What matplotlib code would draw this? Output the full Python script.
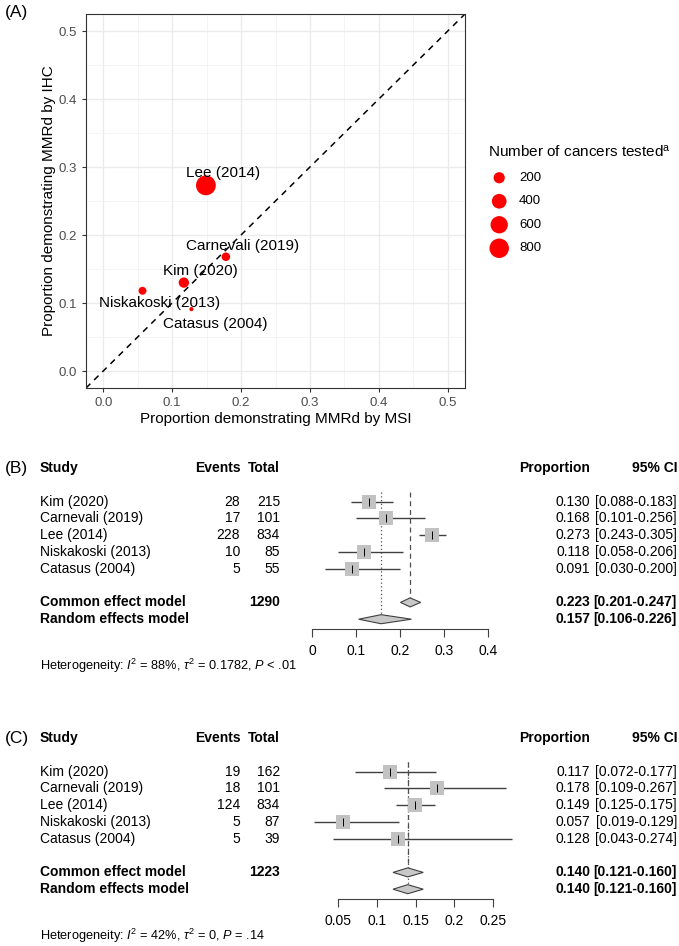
import numpy as np
import matplotlib.pyplot as plt
import matplotlib.transforms as mtransforms

plt.rcParams['font.family'] = ['Liberation Sans', 'DejaVu Sans']
plt.rcParams['mathtext.fontset'] = 'custom'
plt.rcParams['mathtext.rm'] = 'Liberation Sans'
plt.rcParams['mathtext.it'] = 'Liberation Sans:italic'
plt.rcParams['mathtext.bf'] = 'Liberation Sans:bold'

W, H = 679, 946

studies = ["Kim (2020)", "Carnevali (2019)", "Lee (2014)", "Niskakoski (2013)", "Catasus (2004)"]

# panel B: IHC
ihc_events = [28, 17, 228, 10, 5]
ihc_total = [215, 101, 834, 85, 55]
ihc_prop = [0.130, 0.168, 0.273, 0.118, 0.091]
ihc_lo = [0.088, 0.101, 0.243, 0.058, 0.030]
ihc_hi = [0.183, 0.256, 0.305, 0.206, 0.200]
ihc_common = [0.223, 0.201, 0.247]
ihc_random = [0.157, 0.106, 0.226]
ihc_sum = 1290

# panel C: MSI
msi_events = [19, 18, 124, 5, 5]
msi_total = [162, 101, 834, 87, 39]
msi_prop = [0.117, 0.178, 0.149, 0.057, 0.128]
msi_lo = [0.072, 0.109, 0.125, 0.019, 0.043]
msi_hi = [0.177, 0.267, 0.175, 0.129, 0.274]
msi_common = [0.140, 0.121, 0.160]
msi_random = [0.140, 0.121, 0.160]
msi_sum = 1223

# panel A
n_tested = [162, 101, 834, 85, 39]
legend_sizes = [200, 400, 600, 800]
label_offsets = [(12, 8), (12, 8), (12, 9), (12, -9), (17, -11)]


def rect(left, top, width, height):
    return [left / W, 1 - (top + height) / H, width / W, height / H]


def marker_area(n):
    nmin, nmax = min(n_tested), max(n_tested)
    size = 1 + 5 * np.sqrt((np.asarray(n, float) - nmin) / (nmax - nmin))
    d_px = 1.1 * (size * 2.845 + 0.94)
    return (d_px * 0.72) ** 2


fig = plt.figure(figsize=(W / 100, H / 100), dpi=100)

# ---------------- (A) scatter ----------------
ax = fig.add_axes(rect(86, 14, 379, 374))
ax.set_xlim(-0.025, 0.525)
ax.set_ylim(-0.025, 0.525)
ax.set_xticks(np.arange(0, 0.51, 0.1))
ax.set_yticks(np.arange(0, 0.51, 0.1))
ax.set_xticks(np.arange(0.05, 0.5, 0.1), minor=True)
ax.set_yticks(np.arange(0.05, 0.5, 0.1), minor=True)
ax.set_xticklabels(["0.0", "0.1", "0.2", "0.3", "0.4", "0.5"])
ax.set_yticklabels(["0.0", "0.1", "0.2", "0.3", "0.4", "0.5"])
ax.grid(which='major', color='#EBEBEB', lw=1.0)
ax.grid(which='minor', color='#F2F2F2', lw=0.6)
ax.set_axisbelow(True)
for s in ax.spines.values():
    s.set_color('#333333')
    s.set_linewidth(0.8)
ax.tick_params(which='major', length=3, color='#333333', labelcolor='#4D4D4D', labelsize=9.5)
ax.tick_params(which='minor', length=0)
ax.plot([-0.025, 0.525], [-0.025, 0.525], ls=(0, (4, 3.5)), color='black', lw=1.1, zorder=1)
ax.scatter(msi_prop, ihc_prop, s=marker_area(n_tested), color='#FF0000', lw=0, zorder=3)
for name, x, y, off in zip(studies, msi_prop, ihc_prop, label_offsets):
    ax.annotate(name, (x, y), xytext=off, textcoords='offset points',
                ha='center', va='center', fontsize=11, zorder=4)
ax.set_xlabel("Proportion demonstrating MMRd by MSI", fontsize=11, labelpad=2)
ax.set_ylabel("Proportion demonstrating MMRd by IHC", fontsize=11, labelpad=2)
fig.text(5 / W, 1 - 12 / H, "(A)", fontsize=12.5, va='center', ha='left')

# legend
lax = fig.add_axes(rect(486, 166, 60, 94))
lax.set_xlim(0, 1)
lax.set_ylim(3.5, -0.5)
lax.axis('off')
lax.scatter([0.22] * len(legend_sizes), range(len(legend_sizes)), s=marker_area(legend_sizes),
            color='#FF0000', lw=0)
for i, v in enumerate(legend_sizes):
    lax.text(0.55, i, str(v), va='center', ha='left', fontsize=9.5)
fig.text(488 / W, 1 - 152 / H, r"Number of cancers tested$^{\mathrm{a}}$", fontsize=11,
         va='center', ha='left')


# ---------------- forest plots ----------------
def forest(label, top, ax_left, ax_width, xlim, ticks, ticklabels,
           events, total, prop, lo, hi, common, random, nsum, hetero):
    row_h = 16.8
    fax = fig.add_axes(rect(ax_left, top - 0.5 * row_h, ax_width, 10.1 * row_h))
    fax.set_xlim(*xlim)
    fax.set_ylim(9.6, -0.5)
    for k in ['top', 'left', 'right']:
        fax.spines[k].set_visible(False)
    fax.spines['bottom'].set_color('#404040')
    fax.spines['bottom'].set_linewidth(0.8)
    fax.set_yticks([])
    fax.set_xticks(ticks)
    fax.set_xticklabels(ticklabels)
    fax.tick_params(axis='x', direction='out', length=6, width=0.8, color='#404040',
                    labelsize=10, pad=4.5)
    fax.patch.set_alpha(0)
    rows = np.arange(2, 2 + len(prop))
    fax.vlines(common[0], 1.45, 7.72, color='#505050', lw=0.9, linestyles=(0, (4, 3)))
    fax.vlines(random[0], 1.45, 8.72, color='#505050', lw=0.9, linestyles=(0, (1, 2)))
    fax.hlines(rows, lo, hi, color='#404040', lw=1.0, clip_on=False, zorder=2)
    fax.scatter(prop, rows, marker='s', s=(13.5 * 0.72) ** 2, color='#C2C2C2', lw=0,
                clip_on=False, zorder=3)
    fax.scatter(prop, rows, marker='|', s=30, color='black', lw=0.7, clip_on=False, zorder=4)
    for r, (est, l, h) in zip([8, 9], [common, random]):
        fax.fill([l, est, h, est], [r, r - 0.27, r, r + 0.27], facecolor='#C8C8C8',
                 edgecolor='#404040', lw=0.8, clip_on=False, zorder=3)

    tr = mtransforms.blended_transform_factory(fig.transFigure, fax.transData)
    fs = 10
    fig.text(5 / W, 0, label, transform=tr, fontsize=12.5, va='center', ha='left')
    fig.text(40 / W, 0, "Study", transform=tr, fontsize=fs, weight='bold', va='center')
    fig.text(241 / W, 0, "Events", transform=tr, fontsize=fs, weight='bold', va='center', ha='right')
    fig.text(280 / W, 0, "Total", transform=tr, fontsize=fs, weight='bold', va='center', ha='right')
    fig.text(590 / W, 0, "Proportion", transform=tr, fontsize=fs, weight='bold', va='center', ha='right')
    fig.text(677 / W, 0, "95% CI", transform=tr, fontsize=fs, weight='bold', va='center', ha='right')
    for r, name, e, n, p, l, h in zip(rows, studies, events, total, prop, lo, hi):
        fig.text(40 / W, r, name, transform=tr, fontsize=fs, va='center')
        fig.text(240 / W, r, str(e), transform=tr, fontsize=fs, va='center', ha='right')
        fig.text(280 / W, r, str(n), transform=tr, fontsize=fs, va='center', ha='right')
        fig.text(590 / W, r, f"{p:.3f}", transform=tr, fontsize=fs, va='center', ha='right')
        fig.text(677 / W, r, f"[{l:.3f}-{h:.3f}]", transform=tr, fontsize=fs, va='center', ha='right')
    for r, name, vals, nn in zip([8, 9], ["Common effect model", "Random effects model"],
                                 [common, random], [nsum, None]):
        fig.text(40 / W, r, name, transform=tr, fontsize=fs, weight='bold', va='center')
        if nn is not None:
            fig.text(280 / W, r, str(nn), transform=tr, fontsize=fs, weight='bold', va='center', ha='right')
        fig.text(590 / W, r, f"{vals[0]:.3f}", transform=tr, fontsize=fs, weight='bold', va='center', ha='right')
        fig.text(677 / W, r, f"[{vals[1]:.3f}-{vals[2]:.3f}]", transform=tr, fontsize=fs,
                 weight='bold', va='center', ha='right')
    fig.text(40 / W, 11.8, hetero, transform=tr, fontsize=9.2, va='center')


forest("(B)", 468, 312, 176, (0, 0.4), [0, 0.1, 0.2, 0.3, 0.4], ["0", "0.1", "0.2", "0.3", "0.4"],
       ihc_events, ihc_total, ihc_prop, ihc_lo, ihc_hi, ihc_common, ihc_random, ihc_sum,
       r"Heterogeneity: $I^2$ = 88%, $\tau^2$ = 0.1782, $P$ < .01")
forest("(C)", 738, 338, 155, (0.05, 0.25), [0.05, 0.1, 0.15, 0.2, 0.25],
       ["0.05", "0.1", "0.15", "0.2", "0.25"],
       msi_events, msi_total, msi_prop, msi_lo, msi_hi, msi_common, msi_random, msi_sum,
       r"Heterogeneity: $I^2$ = 42%, $\tau^2$ = 0, $P$ = .14")

fig.savefig("out.png", dpi=100)
